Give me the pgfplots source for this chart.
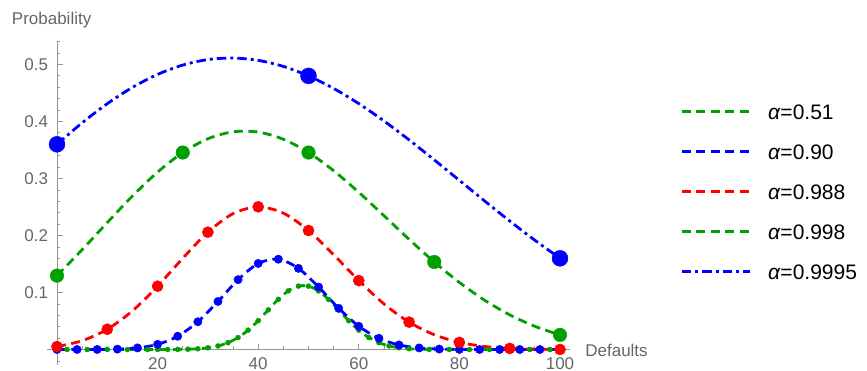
\documentclass[border=0pt]{standalone}
\usepackage{fontspec}
\setmainfont{Liberation Sans}
\usepackage{pgfplots}
\pgfplotsset{compat=1.18}
\definecolor{cG}{RGB}{0,160,0}
\definecolor{cB}{RGB}{0,0,255}
\definecolor{cR}{RGB}{255,0,0}
\definecolor{labgray}{RGB}{102,102,102}
\definecolor{axgray}{RGB}{150,150,150}
\begin{document}
\begin{tikzpicture}
\useasboundingbox (0bp,0bp) rectangle (867bp,-371bp);
\begin{axis}[
  at={(46.94bp,-364.89bp)}, anchor=south west,
  x=5.03bp, y=570bp,
  xmin=-2, xmax=102, ymin=-0.027, ymax=0.54,
  clip=false,
  axis lines=middle,
  axis line style={draw=axgray, line width=0.9bp, -},
  every inner x axis line/.append style={-},
  every inner y axis line/.append style={-},
  tick style={draw=axgray, line width=0.8bp},
  tick align=inside,
  major tick length=6bp, minor tick length=3.5bp,
  xtick={20,40,60,80,100},
  minor xtick={5,10,15,25,30,35,45,50,55,65,70,75,85,90,95},
  ytick={0.1,0.2,0.3,0.4,0.5},
  minor ytick={-0.02,0.02,0.04,0.06,0.08,0.12,0.14,0.16,0.18,0.22,0.24,0.26,0.28,0.32,0.34,0.36,0.38,0.42,0.44,0.46,0.48,0.52,0.54},
  /pgf/number format/assume math mode=true,
  /pgf/number format/fixed,
  tick label style={font=\fontsize{17bp}{20bp}\selectfont, text=labgray},
  xticklabel style={anchor=base, inner sep=0pt, yshift=-19.5bp},
  yticklabel style={anchor=east, inner sep=0pt, xshift=-8.7bp},
  xlabel={Defaults}, ylabel={Probability},
  every axis x label/.style={at={(axis cs:105,-0.0114)}, anchor=base west, inner sep=0pt, font=\fontsize{17bp}{20bp}\selectfont, text=labgray},
  every axis y label/.style={at={(axis cs:-9,0.5693)}, anchor=base west, inner sep=0pt, font=\fontsize{17bp}{20bp}\selectfont, text=labgray},
  legend style={at={(axis cs:123.9,0.2746)}, anchor=west, draw=none, fill=none,
    inner sep=0pt, outer sep=0pt, row sep=23.7bp,
    font=\fontsize{21bp}{25bp}\selectfont,
    nodes={inner sep=0pt},
    /tikz/every odd column/.append style={column sep=17bp}},
  legend cell align=left,
  legend image code/.code={\draw[#1] (0bp,1.5bp) -- (68bp,1.5bp);},
  dsh/.style={line width=2.8bp, dash pattern=on 9bp off 5.5bp},
  dshdot/.style={line width=2.8bp, dash pattern=on 9.5bp off 4bp on 3bp off 4bp},
]
% alpha = 0.51 (green, small dots, step 2)
\addplot[cG, dsh, smooth] coordinates {
(0,0) (2,0) (4,0) (6,0) (8,0) (10,0) (12,0) (14,0) (16,0.0000009) (18,0.0000042)
(20,0.0000165) (22,0.0000576) (24,0.000180) (26,0.000504) (28,0.001281) (30,0.002953)
(32,0.006206) (34,0.011925) (36,0.021006) (38,0.033991) (40,0.050620) (42,0.069479)
(44,0.087994) (46,0.102921) (48,0.111245) (50,0.111158) (52,0.102690) (54,0.087700)
(56,0.069214) (58,0.050447) (60,0.033928) (62,0.021030) (64,0.011997) (66,0.006287)
(68,0.003020) (70,0.001326) (72,0.000531) (74,0.000193) (76,0.0000634) (78,0.0000187)
(80,0.000005) (82,0) (84,0) (86,0) (88,0) (90,0) (92,0) (94,0) (96,0) (98,0) (100,0)};
\addlegendentry{\textit{α}=0.51}
\addplot[cG, only marks, mark=*, mark size=2.5bp, mark options={draw=none, fill=cG}, forget plot] coordinates {
(0,0) (2,0) (4,0) (6,0) (8,0) (10,0) (12,0) (14,0) (16,0.0000009) (18,0.0000042)
(20,0.0000165) (22,0.0000576) (24,0.000180) (26,0.000504) (28,0.001281) (30,0.002953)
(32,0.006206) (34,0.011925) (36,0.021006) (38,0.033991) (40,0.050620) (42,0.069479)
(44,0.087994) (46,0.102921) (48,0.111245) (50,0.111158) (52,0.102690) (54,0.087700)
(56,0.069214) (58,0.050447) (60,0.033928) (62,0.021030) (64,0.011997) (66,0.006287)
(68,0.003020) (70,0.001326) (72,0.000531) (74,0.000193) (76,0.0000634) (78,0.0000187)
(80,0.000005) (82,0) (84,0) (86,0) (88,0) (90,0) (92,0) (94,0) (96,0) (98,0) (100,0)};
% alpha = 0.90 (blue, step 4)
\addplot[cB, dsh, smooth] coordinates {
(0,0.0000006) (4,0.0000121) (8,0.000112) (12,0.000662) (16,0.002805) (20,0.009070)
(24,0.023274) (28,0.048637) (32,0.084254) (36,0.122530) (40,0.150940) (44,0.158467)
(48,0.142340) (52,0.109589) (56,0.072318) (60,0.040832) (64,0.019648) (68,0.008009)
(72,0.002740) (76,0.000777) (80,0.000180) (84,0.000033) (88,0.0000046) (92,0.0000005)
(96,0) (100,0)};
\addlegendentry{\textit{α}=0.90}
\addplot[cB, only marks, mark=*, mark size=4.2bp, mark options={draw=none, fill=cB}, forget plot] coordinates {
(0,0.0000006) (4,0.0000121) (8,0.000112) (12,0.000662) (16,0.002805) (20,0.009070)
(24,0.023274) (28,0.048637) (32,0.084254) (36,0.122530) (40,0.150940) (44,0.158467)
(48,0.142340) (52,0.109589) (56,0.072318) (60,0.040832) (64,0.019648) (68,0.008009)
(72,0.002740) (76,0.000777) (80,0.000180) (84,0.000033) (88,0.0000046) (92,0.0000005)
(96,0) (100,0)};
% alpha = 0.988 (red, step 10)
\addplot[cR, dsh, smooth] coordinates {
(0,0.005111) (5,0.015394) (10,0.035517) (15,0.067751) (20,0.11107) (25,0.16008)
(30,0.20582) (35,0.23838) (40,0.25030) (45,0.23928) (50,0.20873) (55,0.16629)
(60,0.12088) (65,0.08000) (70,0.04800) (75,0.025943) (80,0.012509) (85,0.005303)
(90,0.001931) (95,0.000582) (100,0.000134)};
\addlegendentry{\textit{α}=0.988}
\addplot[cR, only marks, mark=*, mark size=5.6bp, mark options={draw=none, fill=cR}, forget plot] coordinates {
(0,0.005111) (10,0.035517) (20,0.11107) (30,0.20582) (40,0.25030) (50,0.20873)
(60,0.12088) (70,0.04800) (80,0.012509) (90,0.001931) (100,0.000134)};
% alpha = 0.998 (green, step 25)
\addplot[cG, dsh, smooth] coordinates {
(0,0.1296) (5,0.17512) (10,0.22275) (15,0.26926) (20,0.31126) (25,0.3456) (30,0.36972)
(35,0.38189) (40,0.38148) (45,0.36890) (50,0.3456) (55,0.31369) (60,0.27580) (65,0.23475)
(70,0.19325) (75,0.1536) (80,0.11763) (85,0.08652) (90,0.06086) (95,0.04068) (100,0.0256)};
\addlegendentry{\textit{α}=0.998}
\addplot[cG, only marks, mark=*, mark size=6.8bp, mark options={draw=none, fill=cG}, forget plot] coordinates {
(0,0.1296) (25,0.3456) (50,0.3456) (75,0.1536) (100,0.0256)};
% alpha = 0.9995 (blue dash-dot, step 50)
\addplot[cB, dshdot, smooth] coordinates {
(0,0.36) (5,0.39771) (10,0.43131) (15,0.45987) (20,0.48264) (25,0.49900) (30,0.50862)
(35,0.51134) (40,0.50725) (45,0.49664) (50,0.48) (55,0.45797) (60,0.43132) (65,0.40094)
(70,0.36773) (75,0.33267) (80,0.29669) (85,0.26069) (90,0.22545) (95,0.19169) (100,0.16)};
\addlegendentry{\textit{α}=0.9995}
\addplot[cB, only marks, mark=*, mark size=8bp, mark options={draw=none, fill=cB}, forget plot] coordinates {
(0,0.36) (50,0.48) (100,0.16)};
\end{axis}
\end{tikzpicture}
\end{document}
